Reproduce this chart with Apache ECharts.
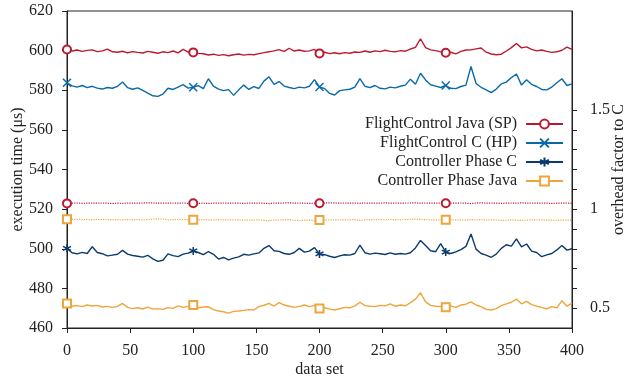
<!DOCTYPE html>
<html>
<head>
<meta charset="utf-8">
<script src="https://cdn.jsdelivr.net/npm/echarts@6/dist/echarts.min.js"></script>
<style>
  html, body { margin: 0; padding: 0; background: #fff; }
  #main { width: 641px; height: 381px; }
</style>
</head>
<body>
<div id="main"></div>
<script>
// data sets sampled every 4 (0, 4, ..., 400)
const step = 4;
const markerSets = [0, 100, 200, 300];
const xTicks = [0, 50, 100, 150, 200, 250, 300, 350, 400];
const yTicks = [460, 480, 500, 520, 540, 560, 580, 600, 620];
const factorTicks = [0.5, 0.6, 0.7, 0.8, 0.9, 1, 1.1, 1.2, 1.3, 1.4, 1.5];
const factorLabels = [0.5, 1, 1.5];

// execution time (µs)
const flightJavaSP = [
  600.6, 599.8, 600.3, 599.6, 600.1, 600.4, 599.5, 599.9, 600.8, 599.4,
  599.2, 599.7, 598.9, 599.5, 599.1, 598.8, 599.6, 599.2, 598.7, 599.4,
  599.0, 599.8, 598.9, 600.6, 599.3, 599.1, 598.6, 598.4, 597.8, 598.2,
  597.6, 598.0, 597.4, 597.9, 598.3, 597.7, 598.1, 597.9, 598.5, 599.0,
  599.4, 599.9, 600.5, 599.6, 601.2, 599.8, 600.3, 599.7, 599.9, 600.6,
  598.6, 599.2, 598.5, 598.9, 598.4, 599.0, 598.7, 599.3, 599.1, 599.8,
  599.2, 599.9, 599.5, 600.2, 599.6, 599.4, 600.0, 599.7, 600.8, 601.6,
  606.0, 601.5, 600.4, 600.0, 599.4, 598.9, 599.2, 598.4, 599.6, 600.3,
  600.4, 600.9, 601.3, 599.2, 598.3, 597.9, 598.2, 599.8, 601.5, 603.6,
  601.4, 601.9, 600.6, 599.9, 600.3, 599.6, 599.1, 599.4, 600.2, 601.8,
  600.6
];
const flightCHP = [
  583.8, 582.2, 581.6, 582.4, 581.3, 582.0, 581.1, 580.6, 581.4, 581.0,
  582.0, 584.2, 581.3, 580.5, 581.2, 579.9, 578.6, 577.2, 576.9, 578.1,
  581.0, 580.4, 581.6, 582.8, 581.1, 581.5, 582.3, 580.8, 585.8, 582.1,
  580.6, 579.8, 580.3, 577.4, 580.2, 582.6, 580.4, 581.8, 580.9, 584.6,
  586.8, 583.0, 584.4, 582.1, 581.4, 580.8, 581.6, 581.2, 582.0, 585.4,
  581.6, 580.9, 578.4, 577.6, 579.8, 580.2, 580.5, 581.6, 585.9, 582.0,
  581.3, 582.4, 581.0, 580.7, 581.6, 581.2, 582.0, 582.6, 585.6, 583.0,
  588.6, 585.2, 582.8, 582.1, 581.4, 582.4, 581.0, 580.8, 581.9, 582.6,
  592.0, 583.4, 581.5, 580.2, 578.8, 580.6, 583.2, 584.1, 586.4, 588.2,
  582.6, 585.3, 583.0, 581.9, 580.4, 580.2, 581.6, 583.8, 585.8, 582.4,
  583.2
];
const phaseC = [
  500.2, 498.0, 497.4, 498.2, 497.6, 501.0, 498.1, 497.5, 496.4, 496.8,
  497.2, 499.2, 497.3, 496.6, 496.2, 495.8, 496.7, 494.9, 493.6, 494.2,
  497.4, 496.5, 496.0, 497.3, 497.8, 498.9, 498.1, 497.0, 498.6, 497.2,
  494.8, 495.6, 494.4, 495.3, 495.9, 497.2, 496.8, 497.4, 497.9, 500.2,
  501.6, 499.0, 498.7, 497.6, 497.2, 498.1, 500.2, 498.3, 498.8, 500.6,
  497.4, 497.0, 496.2, 495.6, 496.4, 497.0, 496.8, 497.6, 501.8, 498.0,
  497.3, 497.8, 497.5, 497.1, 497.9, 497.2, 497.6, 497.3, 498.0, 500.4,
  504.2, 501.6, 499.0, 498.5, 502.6, 498.3, 497.6, 498.4, 499.6, 501.2,
  507.4, 499.8, 497.6, 496.8, 495.7, 497.3, 500.2, 502.0, 501.3, 505.0,
  501.0, 502.4, 498.8, 498.1, 496.0, 496.9, 497.6, 499.4, 501.6, 499.3,
  500.0
];
const phaseJava = [
  472.4, 471.0, 471.3, 470.8, 471.6, 471.1, 471.4, 470.6, 470.9, 470.4,
  470.9, 472.4, 470.4, 469.8, 470.2, 469.6, 470.5, 469.5, 469.8, 469.4,
  470.3, 469.9, 471.2, 470.4, 470.9, 471.6, 470.2, 470.6, 470.7, 469.3,
  468.6, 468.2, 467.5, 468.4, 468.6, 468.9, 469.3, 469.1, 470.8, 471.5,
  472.4, 471.1, 472.8, 471.6, 471.0, 470.4, 470.9, 471.6, 470.8, 471.4,
  469.8, 470.2, 469.5, 469.1, 469.7, 470.4, 470.2, 471.2, 473.0, 471.3,
  471.0, 470.8, 471.4, 471.2, 472.2, 471.0, 471.6, 471.2, 472.8, 474.6,
  477.8, 473.2, 471.4, 471.0, 470.8, 470.5, 471.2, 470.4, 471.6, 472.0,
  473.2, 471.6, 470.8, 469.4, 469.1, 469.8, 471.3, 472.2, 473.0, 474.6,
  472.2, 473.4, 471.8, 471.0, 470.4, 469.6, 470.8, 470.2, 473.8, 471.0,
  472.6
];
// overhead factor to C (right axis)
const factorFlight = [
  1.029, 1.030, 1.031, 1.029, 1.030, 1.031, 1.030, 1.031, 1.030, 1.029,
  1.030, 1.029, 1.031, 1.030, 1.030, 1.031, 1.032, 1.031, 1.030, 1.031,
  1.030, 1.031, 1.030, 1.031, 1.029, 1.030, 1.029, 1.030, 1.029, 1.030,
  1.030, 1.031, 1.030, 1.031, 1.030, 1.029, 1.030, 1.030, 1.031, 1.029,
  1.028, 1.030, 1.030, 1.031, 1.032, 1.030, 1.031, 1.030, 1.029, 1.030,
  1.030, 1.031, 1.032, 1.031, 1.030, 1.031, 1.030, 1.031, 1.029, 1.031,
  1.030, 1.031, 1.030, 1.032, 1.030, 1.031, 1.030, 1.031, 1.031, 1.032,
  1.030, 1.031, 1.030, 1.030, 1.031, 1.030, 1.031, 1.030, 1.031, 1.030,
  1.028, 1.031, 1.032, 1.030, 1.031, 1.030, 1.029, 1.030, 1.031, 1.030,
  1.032, 1.030, 1.031, 1.030, 1.031, 1.030, 1.029, 1.030, 1.030, 1.031,
  1.030
];
const factorPhase = [
  0.949, 0.948, 0.949, 0.947, 0.948, 0.946, 0.948, 0.947, 0.948, 0.947,
  0.947, 0.946, 0.947, 0.946, 0.947, 0.946, 0.947, 0.949, 0.951, 0.950,
  0.946, 0.947, 0.949, 0.947, 0.946, 0.947, 0.946, 0.947, 0.946, 0.945,
  0.947, 0.945, 0.946, 0.945, 0.946, 0.944, 0.945, 0.944, 0.946, 0.943,
  0.942, 0.944, 0.945, 0.946, 0.947, 0.944, 0.942, 0.945, 0.944, 0.942,
  0.945, 0.946, 0.945, 0.946, 0.945, 0.946, 0.946, 0.947, 0.943, 0.946,
  0.947, 0.946, 0.947, 0.946, 0.948, 0.947, 0.946, 0.947, 0.948, 0.950,
  0.948, 0.947, 0.945, 0.946, 0.944, 0.946, 0.947, 0.945, 0.946, 0.944,
  0.947, 0.946, 0.947, 0.945, 0.946, 0.945, 0.943, 0.944, 0.946, 0.944,
  0.943, 0.944, 0.946, 0.945, 0.946, 0.944, 0.945, 0.943, 0.945, 0.944,
  0.945
];

const font = 'Liberation Serif';
const ink = '#222';

function pairs(vals) {
  return vals.map((v, i) => [i * step, v]);
}
function markSize(size) {
  return (val) => (markerSets.indexOf(val[0]) >= 0 ? size : 0);
}

const asterisk = 'path://M5,0L5,10M0.67,2.5L9.33,7.5M0.67,7.5L9.33,2.5';
const cross = 'path://M0,0L10,10M10,0L0,10';

function mainSeries(name, vals, color, symbol) {
  return {
    name: name,
    type: 'line',
    data: pairs(vals),
    symbol: symbol,
    symbolSize: markSize(8),
    showSymbol: true,
    lineStyle: { color: color, width: 1.4 },
    itemStyle: { color: color, borderColor: color, borderWidth: 1.5 },
    z: 3
  };
}

const chart = echarts.init(document.getElementById('main'));
chart.setOption({
  animation: false,
  textStyle: { fontFamily: font, color: ink },
  grid: {
    left: 67, right: 69, top: 11, bottom: 53,
    outerBoundsMode: 'none',
    show: true, borderColor: ink, borderWidth: 1
  },
  legend: {
    orient: 'vertical',
    right: 72,
    top: 111,
    align: 'right',
    itemWidth: 37,
    itemHeight: 11,
    itemGap: 3,
    textStyle: { fontFamily: font, fontSize: 16, color: ink, padding: [0, 4, 0, 0] },
    data: ['FlightControl Java (SP)', 'FlightControl C (HP)', 'Controller Phase C', 'Controller Phase Java']
  },
  xAxis: {
    type: 'value',
    min: 0, max: 400, interval: 50,
    name: 'data set',
    nameLocation: 'middle',
    nameGap: 34,
    nameMoveOverlap: false,
    nameTextStyle: { fontFamily: font, fontSize: 16, color: ink },
    axisLine: { lineStyle: { color: ink } },
    axisTick: { length: 5, lineStyle: { color: ink } },
    axisLabel: { fontFamily: font, fontSize: 16, color: ink, margin: 15, customValues: xTicks },
    splitLine: { show: false }
  },
  yAxis: [
    {
      type: 'value',
      min: 460, max: 620, interval: 20,
      name: 'execution time (μs)',
      nameLocation: 'middle',
      nameGap: 41,
      nameMoveOverlap: false,
      nameTextStyle: { fontFamily: font, fontSize: 16, color: ink },
      axisLine: { show: true, lineStyle: { color: ink } },
      axisTick: { show: true, length: 5, lineStyle: { color: ink } },
      axisLabel: { fontFamily: font, fontSize: 16, color: ink, margin: 14, customValues: yTicks },
      splitLine: { show: false }
    },
    {
      type: 'value',
      position: 'right',
      min: 0.4, max: 2.0, interval: 0.1,
      name: 'overhead factor to C',
      nameLocation: 'middle',
      nameGap: 39,
      nameMoveOverlap: false,
      nameTextStyle: { fontFamily: font, fontSize: 16, color: ink },
      axisLine: { show: true, lineStyle: { color: ink } },
      axisTick: { show: true, length: 5, lineStyle: { color: ink }, customValues: factorTicks },
      axisLabel: { fontFamily: font, fontSize: 16, color: ink, margin: 18, customValues: factorLabels },
      splitLine: { show: false }
    }
  ],
  series: [
    mainSeries('FlightControl Java (SP)', flightJavaSP, '#bd1a30', 'emptyCircle'),
    mainSeries('FlightControl C (HP)', flightCHP, '#0a6aa8', cross),
    mainSeries('Controller Phase C', phaseC, '#0b3a6d', asterisk),
    mainSeries('Controller Phase Java', phaseJava, '#eea53c', 'emptyRect'),
    {
      name: 'factor flight',
      type: 'line',
      yAxisIndex: 1,
      data: pairs(factorFlight),
      symbol: 'emptyCircle',
      symbolSize: markSize(8),
      lineStyle: { color: '#bd1a30', width: 1.2, type: 'dotted' },
      itemStyle: { color: '#bd1a30', borderColor: '#bd1a30', borderWidth: 1.5 },
      z: 2
    },
    {
      name: 'factor phase',
      type: 'line',
      yAxisIndex: 1,
      data: pairs(factorPhase),
      symbol: 'emptyRect',
      symbolSize: markSize(8),
      lineStyle: { color: '#eea53c', width: 1.2, type: 'dotted' },
      itemStyle: { color: '#eea53c', borderColor: '#eea53c', borderWidth: 1.5 },
      z: 2
    }
  ]
});
</script>
</body>
</html>
